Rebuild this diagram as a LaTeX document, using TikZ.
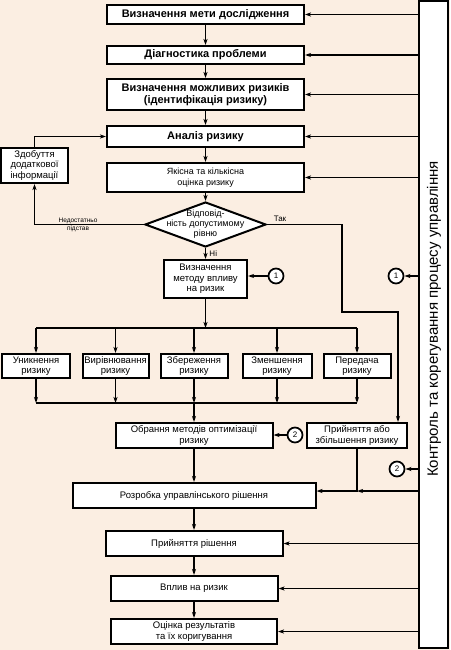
\documentclass[tikz,border=0pt]{standalone}
\usepackage{fontspec}
\setmainfont{Liberation Sans}
\usetikzlibrary{shapes,arrows.meta,positioning,calc}
\definecolor{bgbeige}{RGB}{251,238,226}

\begin{document}
\begin{tikzpicture}[x=1pt,y=-1pt,
  box/.style={draw,fill=white,line width=2pt,inner sep=1pt,align=center,font=\fontsize{9.5}{10.5}\selectfont},
  topbox/.style={box,minimum width=197pt,font=\fontsize{11}{11.5}\selectfont\bfseries},
  arr/.style={line width=1.3pt,-{Stealth[length=6pt,width=4pt,inset=1.5pt]}},
  line/.style={line width=1.3pt},
  num/.style={circle,draw,fill=white,line width=1.7pt,minimum size=15pt,inner sep=0pt,font=\fontsize{8}{9}\selectfont}]
\fill[bgbeige] (0,0) rectangle (450,650);
\useasboundingbox (0,0) rectangle (450,650);

\node[topbox,minimum height=19pt] (goal) at (205.5,14.5) {Визначення мети дослідження};
\node[topbox,minimum height=18pt] (diag) at (205.5,55) {Діагностика проблеми};
\node[topbox,minimum height=31pt] (ident) at (205.5,94.5) {Визначення можливих ризиків\\(ідентифікація ризику)};
\node[topbox,minimum height=21pt] (anal) at (205.5,136.5) {Аналіз ризику};
\node[box,minimum width=197pt,minimum height=29pt,font=\fontsize{9}{10.5}\selectfont] (assess) at (205.5,177.5) {Якісна та кількісна\\оцінка ризику};
\node[diamond,draw,fill=white,line width=2pt,minimum width=121pt,minimum height=45pt,inner sep=0pt] (check) at (205.5,224.5) {};
\node[align=center,font=\fontsize{9}{10}\selectfont] (checktxt) at (check.center) {Відповід-\\ність допустимому\\рівню};
\node[box,minimum width=67pt,minimum height=35pt] (extra) at (34.5,165.5) {Здобуття\\додаткової\\інформації};
\node[box,minimum width=83pt,minimum height=38pt] (method) at (205.5,279) {Визначення\\методу впливу\\на ризик};

\node[num] (n1a) at (276,276) {1};
\node[num] (n1b) at (396,276) {1};
\node[num] (n2a) at (295,435) {2};
\node[num] (n2b) at (397,469) {2};

\node[box,minimum width=68pt,minimum height=24pt] (avoid) at (36,366) {Уникнення\\ризику};
\node[box,minimum width=66pt,minimum height=24pt] (level) at (115.5,366) {Вирівнювання\\ризику};
\node[box,minimum width=67pt,minimum height=24pt] (keep) at (194,366) {Збереження\\ризику};
\node[box,minimum width=69pt,minimum height=24pt] (reduce) at (277,366) {Зменшення\\ризику};
\node[box,minimum width=67pt,minimum height=24pt] (transfer) at (357,366) {Передача\\ризику};

\node[box,minimum width=157pt,minimum height=25pt] (optim) at (194,435.5) {Обрання методів оптимізації\\ризику};
\node[box,minimum width=100pt,minimum height=25pt] (accept) at (357,435.5) {Прийняття або\\збільшення ризику};
\node[box,minimum width=243pt,minimum height=25pt] (develop) at (194,495.5) {Розробка управлінського рішення};
\node[box,minimum width=177pt,minimum height=25pt] (decide) at (194,543.5) {Прийняття рішення};
\node[box,minimum width=167pt,minimum height=25pt] (impact) at (194,588.5) {Вплив на ризик};
\node[box,minimum width=166pt,minimum height=25pt] (results) at (194,631.5) {Оцінка результатів\\та їх коригування};

\node[draw,fill=white,line width=2pt,minimum width=29pt,minimum height=646pt,inner sep=0pt] (control) at (433.5,324.5) {};
\node[rotate=90,font=\fontsize{15}{17}\selectfont] (controltxt) at (434,319) {Контроль та корегування процесу управління};

\draw[arr] (goal) -- (diag);
\draw[arr] (diag) -- (ident);
\draw[arr] (ident) -- (anal);
\draw[arr] (anal) -- (assess);
\draw[arr] (assess) -- (check);
\draw[arr] (check) -- node[right,font=\fontsize{8}{9}\selectfont] (no) {Ні} (method);

% control feedback
\foreach \b in {goal,diag,ident,anal,assess,decide,impact,results}
  \draw[arr] (control.west |- \b) -- (\b.east);
\draw[arr] (control.west |- n1b) -- (n1b.east);
\draw[arr] (control.west |- n2b) -- (n2b.east);
\draw[arr] (n1a.west) -- (n1a.west -| method.east);
\draw[arr] (n2a.west) -- (n2a.west -| optim.east);

\draw[arr] (check.west) -| (extra.south);
\draw[arr] (extra.north) |- (anal.west);
\node[align=center,font=\fontsize{6.5}{8}\selectfont] (short) at (78,224.5) {Недостатньо\\підстав};

\node[font=\fontsize{8}{9}\selectfont] (yes) at (280,219) {Так};
\coordinate (yes1) at (342,312);
\coordinate (yes2) at (398,312);
\draw[arr] (check.east) -| (yes1) -- (yes2) -- (yes2 |- accept.north);

\coordinate (busa) at (0,328);
\coordinate (busb) at (0,403);
\draw[arr] (method.south) -- (method.south |- busa);
\draw[line] (avoid |- busa) -- (transfer |- busa);
\draw[line] (avoid |- busb) -- (transfer |- busb);
\foreach \b in {avoid,level,keep,reduce,transfer} {
  \draw[arr] (\b |- busa) -- (\b.north);
  \draw[arr] (\b.south) -- (\b |- busb);
}
\draw[arr] (keep |- busb) -- (optim.north);
\draw[arr] (optim) -- (develop);
\draw[arr] (develop) -- (decide);
\draw[arr] (decide) -- (impact);
\draw[arr] (impact) -- (results);

\coordinate (joinlvl) at (0,491);
\draw[arr] (accept.south) |- (develop.east |- joinlvl);
\draw[arr] (control.west |- joinlvl) -- (accept.south |- joinlvl);
\end{tikzpicture}
\end{document}
